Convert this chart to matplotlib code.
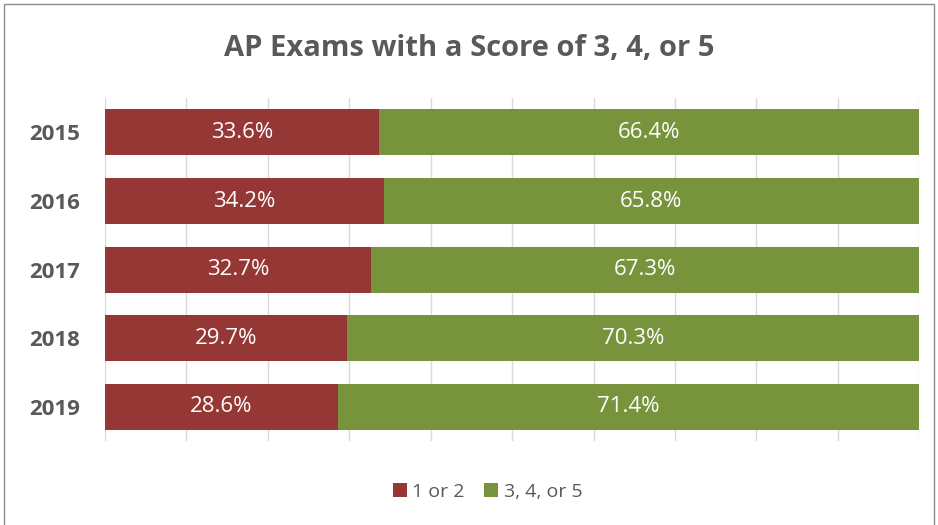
import matplotlib

matplotlib.use("Agg")
import matplotlib.pyplot as plt
from matplotlib.patches import Rectangle

# Data
years = ["2015", "2016", "2017", "2018", "2019"]
low_scores = [33.6, 34.2, 32.7, 29.7, 28.6]   # 1 or 2
pass_scores = [66.4, 65.8, 67.3, 70.3, 71.4]  # 3, 4, or 5
series_names = ["1 or 2", "3, 4, or 5"]

RED = "#953735"
GREEN = "#77933c"
TEXT = "#595959"
GRID = "#d9d9d9"

plt.rcParams["font.family"] = ["Open Sans", "DejaVu Sans"]

fig = plt.figure(figsize=(9.38, 5.25), dpi=100)
ax = fig.add_axes([0.112, 0.16, 0.868, 0.653])

pos = list(range(len(years)))
b1 = ax.barh(pos, low_scores, height=0.67, color=RED, label=series_names[0], zorder=3)
b2 = ax.barh(pos, pass_scores, left=low_scores, height=0.67, color=GREEN,
             label=series_names[1], zorder=3)

for bars, vals, lefts in [(b1, low_scores, [0] * len(years)), (b2, pass_scores, low_scores)]:
    for bar, v, l in zip(bars, vals, lefts):
        ax.text(l + v / 2, bar.get_y() + bar.get_height() / 2, f"{v:.1f}%",
                ha="center", va="center", color="white", fontsize=16, zorder=4)

ax.set_xlim(0, 100)
ax.set_ylim(len(years) - 0.5, -0.5)
ax.set_xticks(range(0, 101, 10))
ax.set_xticklabels([])
ax.tick_params(axis="x", length=0)
ax.tick_params(axis="y", length=0, pad=18)
ax.set_yticks(pos)
ax.set_yticklabels(years, fontsize=16, fontweight="bold", color=TEXT)
ax.grid(axis="x", color=GRID, linewidth=1, zorder=0)
for s in ax.spines.values():
    s.set_visible(False)

fig.suptitle("AP Exams with a Score of 3, 4, or 5", y=0.935, fontsize=21,
             fontweight="bold", color=TEXT)

leg = fig.legend(loc="center", bbox_to_anchor=(0.52, 0.063), ncol=2, frameon=False,
                 fontsize=14, handlelength=0.7, handleheight=0.7, handletextpad=0.3,
                 columnspacing=1.0)
for t in leg.get_texts():
    t.set_color(TEXT)

# chart frame
fig.patches.append(Rectangle((4 / 938, -0.01), 930 / 938, 1 - 4 / 525 + 0.01,
                             transform=fig.transFigure, fill=False,
                             edgecolor="#8c8c8c", linewidth=1))

plt.savefig("out.png", dpi=100)
